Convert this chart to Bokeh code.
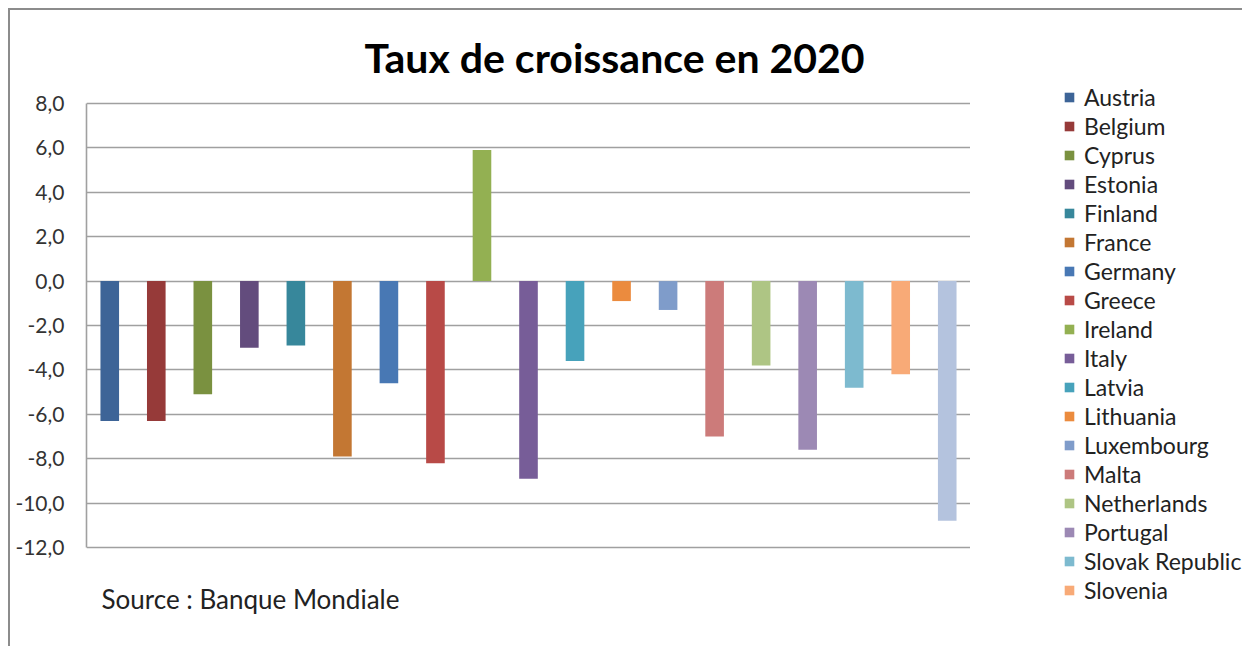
from bokeh.plotting import figure
from bokeh.layouts import row
from bokeh.models import (Range1d, FactorRange, FixedTicker, CustomJSTickFormatter,
                          Legend, LegendItem, Label, ColumnDataSource)
from bokeh.embed import file_html
from bokeh.resources import INLINE

countries = ["Austria", "Belgium", "Cyprus", "Estonia", "Finland", "France",
             "Germany", "Greece", "Ireland", "Italy", "Latvia", "Lithuania",
             "Luxembourg", "Malta", "Netherlands", "Portugal", "Slovak Republic",
             "Slovenia", "Spain"]
growth = [-6.3, -6.3, -5.1, -3.0, -2.9, -7.9, -4.6, -8.2, 5.9, -8.9, -3.6, -0.9,
          -1.3, -7.0, -3.8, -7.6, -4.8, -4.2, -10.8]
colors = ["#3D6497", "#963A39", "#7A9140", "#634C7D", "#37879B", "#C37733",
          "#4878B4", "#B84A47", "#93B052", "#775D98", "#47A2BB", "#EB8B3E",
          "#7F9CCA", "#CC7B7A", "#AEC584", "#9C89B4", "#7DBACF", "#F8AA77",
          "#B4C3DE"]
y_ticks = [-12, -10, -8, -6, -4, -2, 0, 2, 4, 6, 8]
title_text = "Taux de croissance en 2020"
source_text = "Source : Banque Mondiale"
legend_count = 18  # the legend of the original is cut after Slovenia

FONT = "Lato"

# layout geometry (pixels)
H = 636
BORDER_TOP = 10
BORDER_BOTTOM = 16
FRAME_H = H - BORDER_TOP - BORDER_BOTTOM
AXIS_TOP_PAD = 83     # px between frame top and the 8,0 line
AXIS_BOTTOM_PAD = 83  # px between the -12,0 line and the frame bottom
ymin, ymax = y_ticks[0], y_ticks[-1]
upp = (ymax - ymin) / (FRAME_H - AXIS_TOP_PAD - AXIS_BOTTOM_PAD)

src = ColumnDataSource(data=dict(country=countries, growth=growth, color=colors))

# main chart
p = figure(x_range=FactorRange(factors=countries, range_padding=0),
           y_range=Range1d(ymin - AXIS_BOTTOM_PAD * upp, ymax + AXIS_TOP_PAD * upp),
           width=960, height=H,
           min_border_left=76, min_border_right=0, min_border_top=BORDER_TOP,
           min_border_bottom=BORDER_BOTTOM, output_backend="svg", toolbar_location=None)
p.outline_line_color = None

r = p.vbar(x="country", top="growth", bottom=0, width=0.4, color="color",
           line_color=None, source=src)

p.xaxis.visible = False
p.xgrid.visible = False
p.ygrid.grid_line_color = "#a0a0a0"
p.ygrid.grid_line_width = 1.6
p.yaxis.ticker = FixedTicker(ticks=y_ticks)
p.yaxis.bounds = (ymin, ymax)
p.yaxis.formatter = CustomJSTickFormatter(code="return tick.toFixed(1).replace('.', ',');")
p.yaxis.major_tick_line_color = None
p.yaxis.minor_tick_line_color = None
p.yaxis.axis_line_color = "#a0a0a0"
p.yaxis.axis_line_width = 1.6
p.yaxis.major_label_standoff = 16
p.yaxis.major_label_text_font = FONT
p.yaxis.major_label_text_font_size = "21px"
p.yaxis.major_label_text_color = "#333333"

# title and source note (screen offsets from the frame's bottom-left corner)
p.add_layout(Label(x=528, y=FRAME_H - 37, x_units="screen", y_units="screen",
                   text=title_text, text_font=FONT, text_font_style="bold",
                   text_font_size="41px", text_color="#000000",
                   text_align="center", text_baseline="alphabetic"))
p.add_layout(Label(x=15, y=32, x_units="screen", y_units="screen",
                   text=source_text, text_font=FONT, text_font_size="26px",
                   text_color="#222222", text_align="left",
                   text_baseline="alphabetic"))

# legend panel: same data, its renderer hidden; only the legend is shown
pl = figure(x_range=FactorRange(factors=countries), y_range=Range1d(100, 200),
            width=272, height=H, min_border_left=0, min_border_right=0,
            min_border_top=BORDER_TOP, min_border_bottom=BORDER_BOTTOM,
            output_backend="svg", toolbar_location=None,
            x_axis_location=None, y_axis_location=None)
pl.outline_line_color = None
pl.grid.visible = False
r2 = pl.vbar(x="country", top="growth", bottom=0, width=0.4, color="color",
             line_color=None, source=src)
r2.visible = False

items = [LegendItem(label=countries[i], renderers=[r2], index=i) for i in range(legend_count)]
legend = Legend(items=items, location=(93, 26), padding=0, margin=0, ncols=1,
                border_line_color=None, background_fill_alpha=0,
                glyph_width=12, glyph_height=12, label_height=20, spacing=1,
                label_standoff=9, label_text_font=FONT, label_text_font_size="23px",
                label_text_color="#222222")
pl.add_layout(legend, "center")

layout = row(p, pl, spacing=0)
layout.styles = {"border-top": "2px solid #8c8c8c", "border-left": "2px solid #8c8c8c",
                 "margin-left": "8px", "margin-top": "8px"}

open("out.html", "w").write(file_html(layout, INLINE))
